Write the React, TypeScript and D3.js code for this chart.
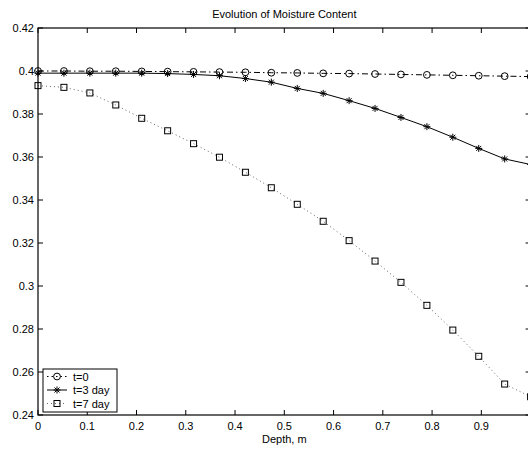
import React from 'react';
import * as d3 from 'd3';

// depth nodes: 20 points from 0 to 1 m
const depth = d3.range(20).map(i => i / 19);

const moistT0 = [0.4000, 0.4000, 0.3999, 0.3999, 0.3998, 0.3997, 0.3996, 0.3995, 0.3994, 0.3992,
  0.3991, 0.3989, 0.3988, 0.3986, 0.3984, 0.3982, 0.3980, 0.3978, 0.3976, 0.3974];
const moistT3 = [0.3990, 0.3990, 0.3990, 0.3990, 0.3990, 0.3988, 0.3984, 0.3978, 0.3965, 0.3948,
  0.3919, 0.3896, 0.3862, 0.3826, 0.3784, 0.3741, 0.3692, 0.3640, 0.3591, 0.3565];
const moistT7 = [0.3932, 0.3924, 0.3898, 0.3842, 0.3780, 0.3722, 0.3662, 0.3599, 0.3529, 0.3457,
  0.3380, 0.3301, 0.3211, 0.3116, 0.3017, 0.2910, 0.2795, 0.2673, 0.2544, 0.2485];

// the tick at 1 sits on the clipped right edge, so it has no visible label
const xTicks = [0, 0.1, 0.2, 0.3, 0.4, 0.5, 0.6, 0.7, 0.8, 0.9, 1];
const xTickLabels = ['0', '0.1', '0.2', '0.3', '0.4', '0.5', '0.6', '0.7', '0.8', '0.9', ''];
const yTicks = [0.24, 0.26, 0.28, 0.3, 0.32, 0.34, 0.36, 0.38, 0.4, 0.42];
const yTickLabels = ['0.24', '0.26', '0.28', '0.3', '0.32', '0.34', '0.36', '0.38', '0.4', '0.42'];
const legendLabels = ['t=0', 't=3 day', 't=7 day'];

const W = 528;
const H = 450;
const left = 38, right = 530.6, top = 28, bottom = 415;
const font = '"Liberation Sans", Arial, Helvetica, sans-serif';

const x = d3.scaleLinear().domain([0, 1]).range([left, right]);
const y = d3.scaleLinear().domain([0.24, 0.42]).range([bottom, top]);

const starPath = 'M-3.5,0H3.5M0,-3.5V3.5M-2.5,-2.5L2.5,2.5M-2.5,2.5L2.5,-2.5';

function Marker({ kind, cx, cy }: { kind: string; cx: number; cy: number }) {
  if (kind === 'circle') return <circle cx={cx} cy={cy} r={3.4} fill="none" stroke="#000" strokeWidth={1} />;
  if (kind === 'star') return <path d={starPath} transform={`translate(${cx},${cy})`} stroke="#000" strokeWidth={1} fill="none" />;
  return <rect x={cx - 3} y={cy - 3} width={6} height={6} fill="none" stroke="#000" strokeWidth={1} />;
}

const series = [
  { label: legendLabels[0], values: moistT0, kind: 'circle', dash: '6 3 1.5 3', legendDash: '1.5 3', color: '#000' },
  { label: legendLabels[1], values: moistT3, kind: 'star', dash: undefined, legendDash: undefined, color: '#000' },
  { label: legendLabels[2], values: moistT7, kind: 'square', dash: '1 3', legendDash: '1 3', color: '#666' },
];

export default function App() {
  const line = d3.line<number>().x((_, i) => x(depth[i])).y(v => y(v));

  return (
    <svg width={W} height={H} style={{ position: 'absolute', left: 0, top: 0, background: '#fff' }}
      fontFamily={font} fontSize={11}>
      <rect x={0} y={0} width={W} height={H} fill="#fff" />

      {/* title */}
      <text x={(left + right) / 2} y={18} textAnchor="middle">Evolution of Moisture Content</text>

      {/* ticks on all four sides */}
      {xTicks.map((t, i) => (
        <g key={'x' + t}>
          <line x1={x(t)} x2={x(t)} y1={bottom} y2={bottom - 5} stroke="#000" />
          <line x1={x(t)} x2={x(t)} y1={top} y2={top + 5} stroke="#000" />
          {xTickLabels[i] && <text x={x(t)} y={bottom + 15} textAnchor="middle">{xTickLabels[i]}</text>}
        </g>
      ))}
      {yTicks.map((t, i) => (
        <g key={'y' + t}>
          <line x1={left} x2={left + 5} y1={y(t)} y2={y(t)} stroke="#000" />
          <line x1={right} x2={right - 5} y1={y(t)} y2={y(t)} stroke="#000" />
          <text x={left - 4} y={y(t) + 4} textAnchor="end">{yTickLabels[i]}</text>
        </g>
      ))}
      <text x={(left + right) / 2} y={443} textAnchor="middle">Depth, m</text>

      {/* data */}
      {series.map(s => (
        <g key={s.label}>
          <path d={line(s.values) || ''} fill="none" stroke={s.color} strokeWidth={1} strokeDasharray={s.dash} />
          {s.values.map((v, i) => <Marker key={i} kind={s.kind} cx={x(depth[i])} cy={y(v)} />)}
        </g>
      ))}

      {/* frame */}
      <rect x={left} y={top} width={right - left} height={bottom - top} fill="none" stroke="#000" strokeWidth={1.2} />

      {/* legend */}
      <g transform="translate(43,369)">
        <rect x={0} y={0} width={74} height={43} fill="#fff" stroke="#000" strokeWidth={1} />
        {series.map((s, i) => {
          const ly = 7.5 + i * 13.5;
          return (
            <g key={s.label}>
              <line x1={4} x2={24} y1={ly} y2={ly} stroke={s.color} strokeDasharray={s.legendDash} />
              <Marker kind={s.kind} cx={14} cy={ly} />
              <text x={30} y={ly + 4}>{s.label}</text>
            </g>
          );
        })}
      </g>
    </svg>
  );
}
